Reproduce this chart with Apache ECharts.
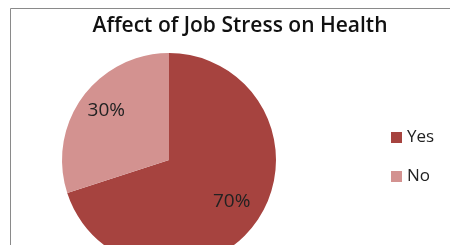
<!DOCTYPE html>
<html>
<head>
<meta charset="utf-8">
<script src="https://cdn.jsdelivr.net/npm/echarts@6/dist/echarts.min.js"></script>
<style>
  html, body { margin: 0; padding: 0; background: #fff; }
  #chart { width: 450px; height: 245px; }
</style>
</head>
<body>
<div id="chart"></div>
<script>
const categories = ['Yes', 'No'];
const shares = [70, 30];
const sliceColors = ['#A6433F', '#D39290'];

const pieData = categories.map((name, i) => ({
    name: name,
    value: shares[i],
    itemStyle: {color: sliceColors[i]}
}));

const chart = echarts.init(document.getElementById('chart'));

chart.setOption({
    animation: false,
    title: {
        text: 'Affect of Job Stress on Health',
        left: 235,
        top: 11,
        textAlign: 'center',
        textStyle: {
            fontFamily: 'Open Sans',
            fontSize: 21,
            fontWeight: 600,
            color: '#111'
        }
    },
    graphic: [{
        type: 'rect',
        shape: {x: 10.5, y: 8.5, width: 460, height: 260},
        style: {fill: 'none', stroke: '#8a8a8a', lineWidth: 1},
        silent: true
    }],
    legend: {
        orient: 'vertical',
        left: 386,
        top: 124,
        itemWidth: 11,
        itemHeight: 11,
        itemGap: 22,
        icon: 'rect',
        data: categories,
        textStyle: {fontFamily: 'Open Sans', fontSize: 17, color: '#222'}
    },
    series: [
        {
            // the pie itself
            type: 'pie',
            center: [169, 160],
            radius: [0, 107],
            startAngle: 90,
            clockwise: true,
            label: {show: false},
            labelLine: {show: false},
            emphasis: {disabled: true},
            data: pieData
        },
        {
            // transparent ring just to place the percent labels further out
            type: 'pie',
            center: [169, 156],
            radius: [42, 107],
            startAngle: 90,
            silent: true,
            legendHoverLink: false,
            itemStyle: {color: 'rgba(0,0,0,0)'},
            label: {
                show: true,
                position: 'inside',
                formatter: '{c}%',
                fontFamily: 'Open Sans',
                fontSize: 19,
                color: '#222'
            },
            labelLine: {show: false},
            data: categories.map((name, i) => ({name: name, value: shares[i]}))
        }
    ]
});
</script>
</body>
</html>
